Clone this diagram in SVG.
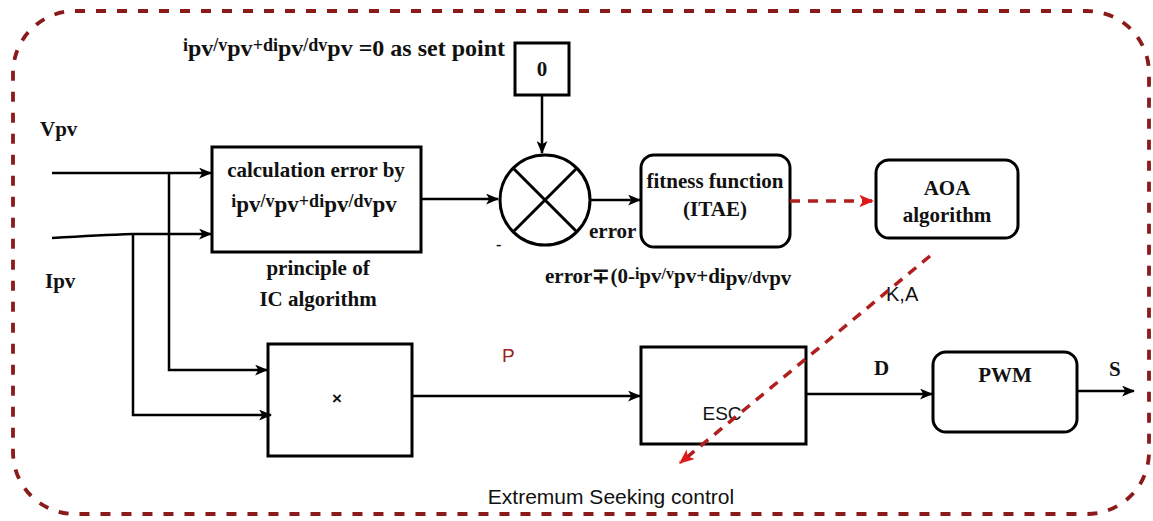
<svg xmlns="http://www.w3.org/2000/svg" width="1153" height="521" viewBox="0 0 1153 521">
<style>
.b{font-family:"Liberation Serif","Times New Roman",serif;font-weight:bold;fill:#111;font-size:21px}
.s{font-family:"Liberation Sans",Arial,sans-serif;fill:#111}
.box{fill:#fff;stroke:#000;stroke-width:3}
.ln{fill:none;stroke:#000;stroke-width:2.5}
.rd{fill:none;stroke:#B01E1E;stroke-width:3.5;stroke-dasharray:10 8}
.sm{font-size:16px}
.sm2{font-size:18px}
.pv{font-size:23px}
</style>
<defs>
<marker id="ah" viewBox="0 0 12 10" refX="11" refY="5" markerWidth="13" markerHeight="11" markerUnits="userSpaceOnUse" orient="auto"><path d="M0,0 L12,5 L0,10 L3,5 z" fill="#000"/></marker>
<marker id="ahr" viewBox="0 0 12 10" refX="11" refY="5" markerWidth="15" markerHeight="13" markerUnits="userSpaceOnUse" orient="auto"><path d="M0,0 L12,5 L0,10 L3,5 z" fill="#E01818"/></marker>
</defs>
<rect id="border" x="13" y="11" width="1136" height="503" rx="62" fill="none" stroke="#8B1A1A" stroke-width="3.8" stroke-dasharray="10 11"/>
<g id="labels">
<text class="b" x="40" y="136">Vpv</text>
<text class="b" x="45" y="288">Ipv</text>
<text class="b" x="505" y="56" text-anchor="end" style="font-size:24px"><tspan class="sm2" dy="-5">i</tspan><tspan dy="5">pv</tspan><tspan class="sm2" dy="-5">/v</tspan><tspan dy="5">pv</tspan><tspan class="sm2" dy="-5">+di</tspan><tspan dy="5">pv</tspan><tspan class="sm2" dy="-5">/dv</tspan><tspan dy="5">pv</tspan> =0 as set point</text>
<text class="b" x="318" y="275" text-anchor="middle">principle of</text>
<text class="b" x="318" y="306" text-anchor="middle">IC algorithm</text>
<text class="b" x="589" y="238">error</text>
<text class="b" x="545" y="283"><tspan>error∓(0-</tspan><tspan class="sm" dy="-4">i</tspan><tspan dy="4">pv</tspan><tspan class="sm" dy="-4">/v</tspan><tspan dy="4">pv</tspan><tspan>+di</tspan><tspan dy="2">pv</tspan><tspan class="sm" dy="-2">/dv</tspan><tspan dy="2">pv</tspan></text>
<text class="b" x="496" y="250" style="font-size:16px">-</text>
<text class="s" x="502" y="362" style="font-size:19px;fill:#9B2020">P</text>
<text class="s" x="886" y="301" style="font-size:20px">K,A</text>
<text class="b" x="874" y="375">D</text>
<text class="b" x="1109" y="376">S</text>
<text class="s" x="611" y="504" text-anchor="middle" style="font-size:21px">Extremum Seeking control</text>
</g>
<g id="node-calc">
<rect class="box" x="212" y="147" width="209" height="105"/>
<text class="b" x="316" y="177" text-anchor="middle">calculation error by</text>
<text class="b" x="314" y="212" text-anchor="middle"><tspan class="sm2" dy="-5">i</tspan><tspan class="pv" dy="5">pv</tspan><tspan class="sm2" dy="-5">/v</tspan><tspan class="pv" dy="5">pv</tspan><tspan class="sm2" dy="-5">+di</tspan><tspan class="pv" dy="5">pv</tspan><tspan class="sm2" dy="-5">/dv</tspan><tspan class="pv" dy="5">pv</tspan></text>
</g>
<g id="node-zero">
<rect class="box" x="515" y="43" width="54" height="52"/>
<text class="b" x="542" y="76" text-anchor="middle">0</text>
</g>
<g id="node-sum">
<circle cx="545" cy="200" r="45" fill="#fff" stroke="#000" stroke-width="3"/>
<path d="M513,168 L577,232 M577,168 L513,232" stroke="#000" stroke-width="3"/>
</g>
<g id="node-fitness">
<rect class="box" x="641" y="155" width="149" height="92" rx="13"/>
<text class="b" x="715" y="188" text-anchor="middle">fitness function</text>
<text class="b" x="715" y="216" text-anchor="middle">(ITAE)</text>
</g>
<g id="node-aoa">
<rect class="box" x="876" y="160" width="142" height="78" rx="13"/>
<text class="b" x="947" y="195" text-anchor="middle">AOA</text>
<text class="b" x="947" y="222" text-anchor="middle">algorithm</text>
</g>
<g id="node-mult">
<rect class="box" x="268" y="344" width="144" height="112"/>
<text class="s" x="337" y="404" text-anchor="middle" style="font-size:17px;font-weight:bold">×</text>
</g>
<g id="node-esc">
<rect class="box" x="641" y="347" width="165" height="97"/>
<text class="s" x="722" y="420" text-anchor="middle" style="font-size:19px">ESC</text>
</g>
<g id="node-pwm">
<rect class="box" x="933" y="352" width="144" height="80" rx="13"/>
<text class="b" x="1005" y="382" text-anchor="middle">PWM</text>
</g>
<g id="connectors">
<path class="ln" d="M52,173 H211" marker-end="url(#ah)"/>
<path class="ln" d="M52,238 Q100,235 133,234 H211" marker-end="url(#ah)"/>
<path class="ln" d="M169,173 V370 H267" marker-end="url(#ah)"/>
<path class="ln" d="M133,234 V415 H271" marker-end="url(#ah)"/>
<path class="ln" d="M421,199 H498" marker-end="url(#ah)"/>
<path class="ln" d="M542,95 V153" marker-end="url(#ah)"/>
<path class="ln" d="M590,200 H640" marker-end="url(#ah)"/>
<path class="ln" d="M412,396 H640" marker-end="url(#ah)"/>
<path class="ln" d="M806,394 H932" marker-end="url(#ah)"/>
<path class="ln" d="M1077,391 H1134" marker-end="url(#ah)"/>
<path class="rd" d="M790,201 H873" marker-end="url(#ahr)"/>
<path class="rd" d="M930,256 L680,463" marker-end="url(#ahr)"/>
</g>
</svg>
